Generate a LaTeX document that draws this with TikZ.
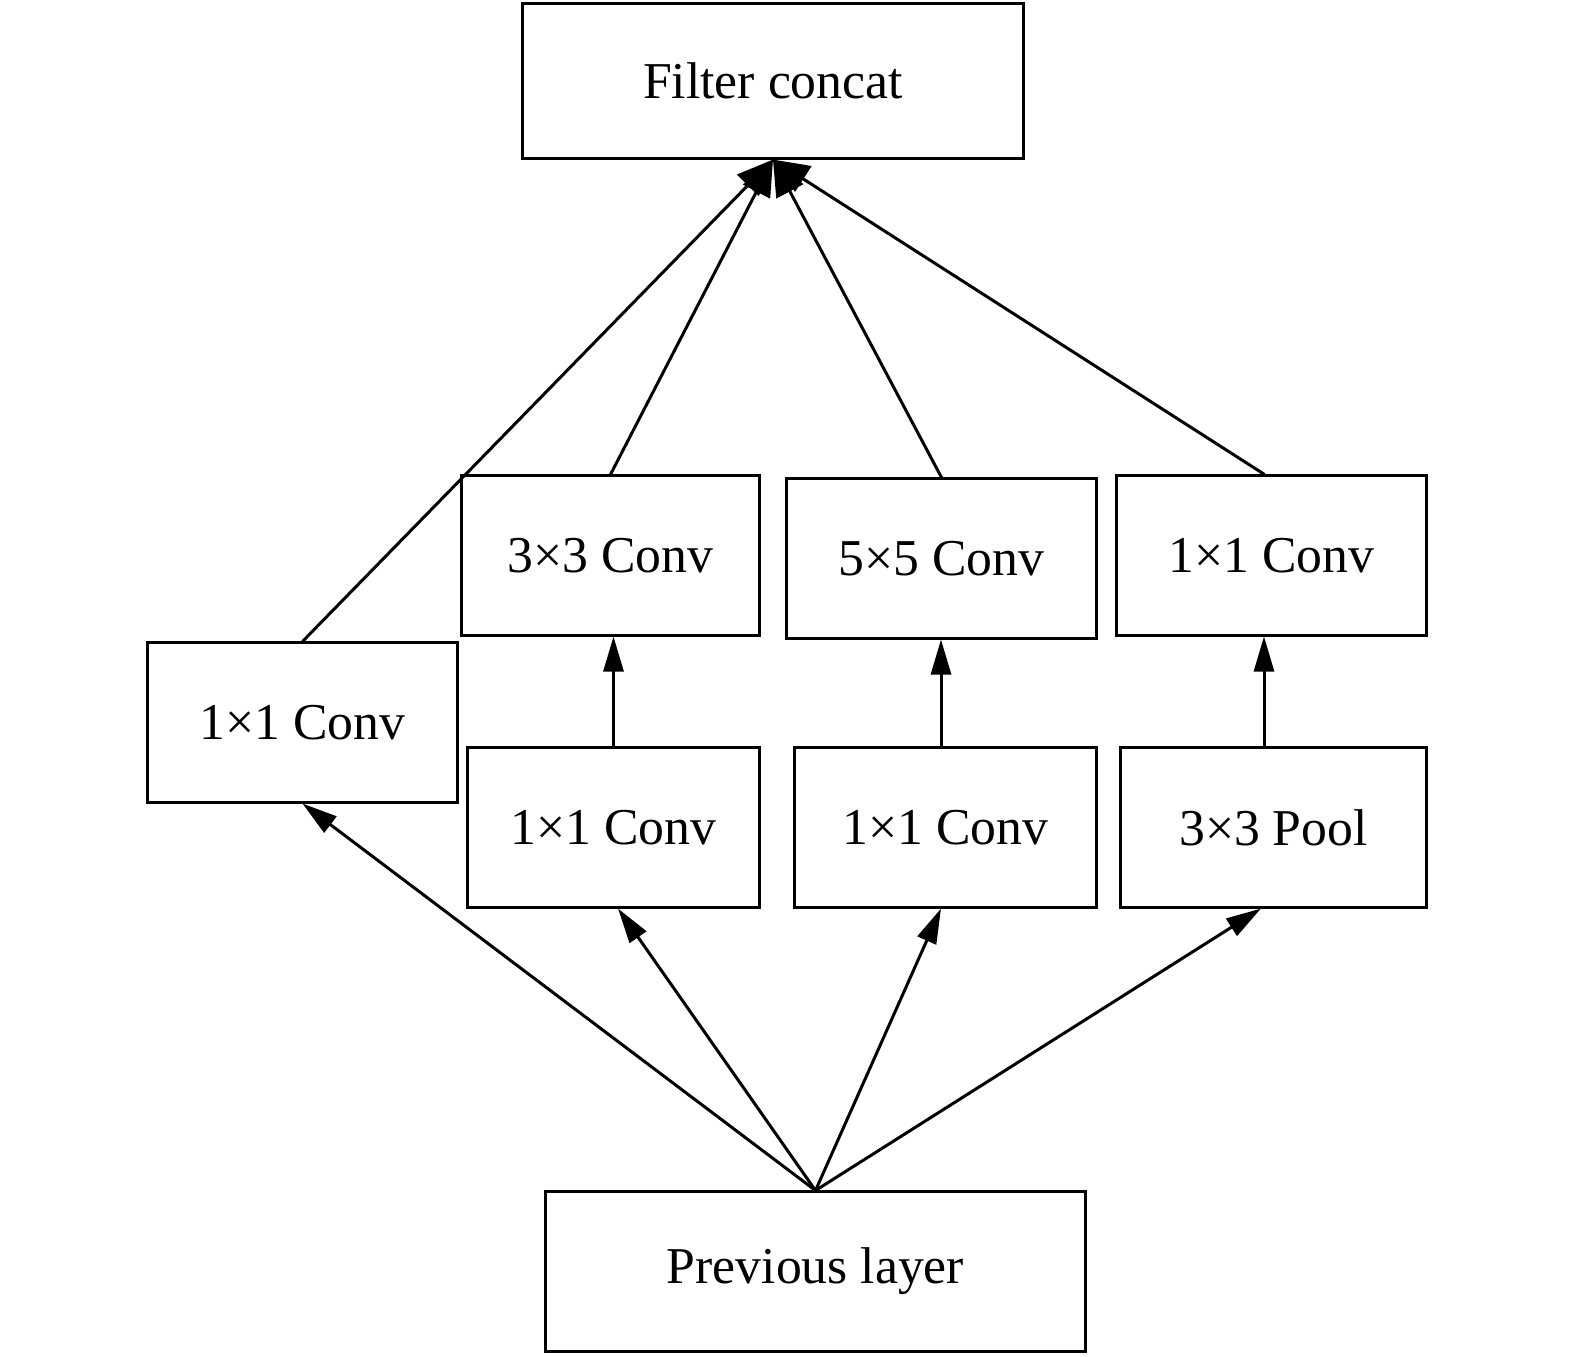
\documentclass[tikz,border=0pt]{standalone}
\usepackage{fontspec}
\setmainfont{Liberation Serif}
\usetikzlibrary{arrows.meta, positioning}

\begin{document}
\begin{tikzpicture}[
    x=0.01cm, y=-0.01cm,
    box/.style={draw, line width=0.85pt, minimum width=#1, minimum height=1.59cm,
                inner sep=0pt, font=\fontsize{14.7}{17}\selectfont},
    arrow/.style={-{Triangle[length=0.35cm, width=0.2cm]}, line width=0.85pt},
    bigarrow/.style={-{Triangle[length=0.36cm, width=0.3cm]}, line width=0.85pt}
]
\useasboundingbox (0,0) rectangle (1575,1356);

\node[box=5.00cm, minimum height=1.54cm] (concat) at (773,81) {Filter concat};
\node[box=2.97cm] (conv3) at (610.5,555.5) {3×3 Conv};
\node[box=3.09cm] (conv5) at (941.5,558.5) {5×5 Conv};
\node[box=3.09cm] (convpool) at (1271.5,555.5) {1×1 Conv};
\node[box=3.09cm] (convl) at (302.5,722.5) {1×1 Conv};
\node[box=2.91cm] (reduce3) at (613.5,827.5) {1×1 Conv};
\node[box=3.01cm] (reduce5) at (945.5,827.5) {1×1 Conv};
\node[box=3.05cm] (pool) at (1273.5,827.5) {3×3 Pool};
\node[box=5.39cm] (prev) at (815.5,1271.5) {Previous layer};

% into filter concat
\draw[bigarrow] (convl.north) -- (concat.south);
\draw[bigarrow] (conv3.north) -- (concat.south);
\draw[bigarrow] (conv5.north) -- (concat.south);
\draw[bigarrow] ([xshift=-0.07cm]convpool.north) -- (concat.south);

% second stage
\draw[arrow] (reduce3.north) -- (reduce3.north |- conv3.south);
\draw[arrow] ([xshift=-0.045cm]reduce5.north) -- ([xshift=-0.045cm]reduce5.north |- conv5.south);
\draw[arrow] ([xshift=-0.095cm]pool.north) -- ([xshift=-0.095cm]pool.north |- convpool.south);

% from previous layer
\draw[arrow] (prev.north) -- (convl.south);
\draw[arrow] (prev.north) -- ([xshift=0.045cm]reduce3.south);
\draw[arrow] (prev.north) -- ([xshift=-0.045cm]reduce5.south);
\draw[arrow] (prev.north) -- ([xshift=-0.125cm]pool.south);
\end{tikzpicture}
\end{document}
